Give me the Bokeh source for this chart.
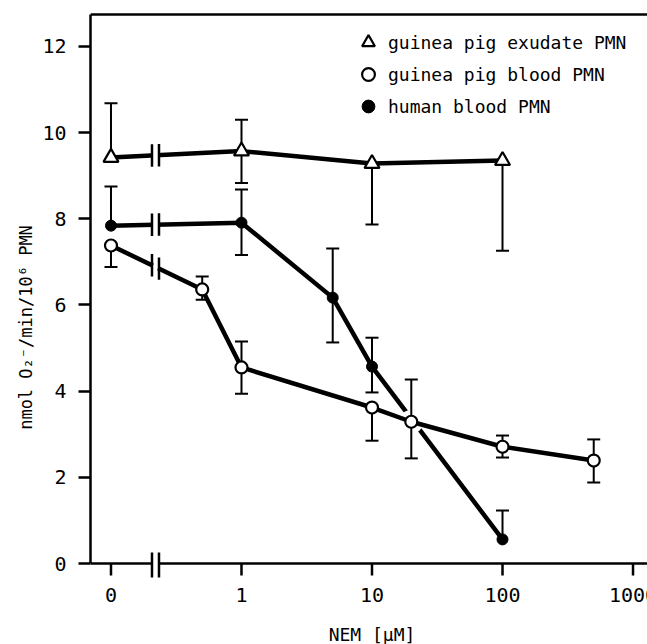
import numpy as np
from bokeh.plotting import figure
from bokeh.models import Range1d, FixedTicker, LinearAxis, Legend, LegendItem
from bokeh.core.properties import value
from bokeh.embed import file_html
from bokeh.resources import INLINE

FONT = "DejaVu Sans Mono"

# ---- data ----
ex_x = [0, 1, 10, 100]
ex_y = [9.42, 9.57, 9.28, 9.35]
ex_hi = [10.68, 10.30, np.nan, np.nan]
ex_lo = [np.nan, 8.83, 7.87, 7.26]

bl_x = [0, 0.5, 1, 10, 20, 100, 500]
bl_y = [7.38, 6.36, 4.55, 3.62, 3.29, 2.71, 2.39]
bl_hi = [np.nan, 6.66, 5.15, np.nan, 4.27, 2.97, 2.88]
bl_lo = [6.88, 6.12, 3.94, 2.85, 2.44, 2.46, 1.88]

hu_x = [0, 1, 5, 10, 100]
hu_y = [7.84, 7.91, 6.17, 4.57, 0.56]
hu_hi = [8.75, 8.68, 7.31, 5.24, 1.23]
hu_lo = [np.nan, 7.16, 5.13, 3.97, np.nan]

x_ticks = [0, 1, 10, 100, 1000]
x_tick_labels = ["0", "1", "10", "100", "1000"]
y_ticks = [0, 2, 4, 6, 8, 10, 12]

ZERO_POS = -1.0      # log-position where concentration 0 is drawn
BREAK_U = -0.659     # axis break position (log units)
TOP_Y = 12.74

def to_u(xs):
    return np.array([np.log10(v) if v > 0 else ZERO_POS for v in xs])

X0, X1 = -1.157, 3.111
Y0, Y1 = -1.879, 12.833

p = figure(width=647, height=644, output_backend="svg", toolbar_location=None,
           x_range=Range1d(X0, X1), y_range=Range1d(Y0, Y1),
           x_axis_location=None, y_axis_location="left",
           min_border_left=90, min_border_right=0, min_border_top=10, min_border_bottom=0)
p.grid.visible = False
p.outline_line_color = None
p.background_fill_color = "white"
p.border_fill_color = "white"

ya = p.yaxis[0]
ya.ticker = FixedTicker(ticks=y_ticks)
ya.bounds = (0, TOP_Y)
ya.axis_line_width = 2.5
ya.major_tick_line_width = 2.5
ya.major_tick_out = 12
ya.major_tick_in = 0
ya.minor_tick_line_color = None
ya.major_label_text_font = FONT
ya.major_label_text_font_size = "20px"
ya.major_label_text_color = "black"
ya.major_label_standoff = 12

ya2 = LinearAxis(axis_label="nmol O\u2082\u207b/min/10\u2076 PMN", bounds=(0, 11.6),
                 ticker=FixedTicker(ticks=[]), axis_line_color=None,
                 major_tick_line_color=None, minor_tick_line_color=None,
                 major_label_text_font_size="0px",
                 axis_label_text_font=FONT, axis_label_text_font_size="17px",
                 axis_label_text_color="black",
                 axis_label_text_font_style="normal", axis_label_standoff=4)
p.add_layout(ya2, "left")

# frame top line
p.segment(x0=[X0], y0=[TOP_Y], x1=[X1], y1=[TOP_Y], line_color="black", line_width=2.5)

# manual x axis
p.segment(x0=[X0], y0=[0], x1=[X1], y1=[0], line_color="black", line_width=2.5)
xu = to_u(x_ticks)
p.segment(x0=xu, y0=np.zeros(len(xu)), x1=xu, y1=np.full(len(xu), -0.278),
          line_color="black", line_width=2.5)
p.text(x=xu, y=np.full(len(xu), -0.74), text=x_tick_labels, text_font=value(FONT),
       text_font_size="20px", text_align="center", text_baseline="middle")
p.text(x=[1.0], y=[-1.64], text=["NEM [\u03bcM]"], text_font=value(FONT),
       text_font_size="18px", text_align="center", text_baseline="middle")

GAP_DU = 0.02
BAR_DU = 0.0268

def draw_break(us, ys, lo, hi, gap_w):
    yb = np.interp([BREAK_U - GAP_DU, BREAK_U + GAP_DU], us, ys)
    p.segment(x0=[BREAK_U - GAP_DU], y0=[yb[0]], x1=[BREAK_U + GAP_DU], y1=[yb[1]],
              line_color="white", line_width=gap_w)
    bx = np.array([BREAK_U - BAR_DU, BREAK_U + BAR_DU])
    by = np.interp(bx, us, ys)
    p.segment(x0=bx, y0=by + lo, x1=bx, y1=by + hi, line_color="black", line_width=2.5)

def errbars(us, ys, his, los):
    us = np.asarray(us); ys = np.asarray(ys); his = np.asarray(his); los = np.asarray(los)
    for ends in (his, los):
        m = ~np.isnan(ends)
        p.segment(x0=us[m], y0=ys[m], x1=us[m], y1=ends[m], line_color="black", line_width=2)
        p.scatter(us[m], ends[m], marker="dash", size=13, line_color="black", line_width=2)

ex_u, bl_u, hu_u = to_u(ex_x), to_u(bl_x), to_u(hu_x)

# human line then halo around blood points (line crossings)
p.line(hu_u, hu_y, line_color="black", line_width=4.5)
p.scatter(bl_u, bl_y, marker="circle", size=24, fill_color="white", line_color=None)
p.line(bl_u, bl_y, line_color="black", line_width=4.5)
p.line(ex_u, ex_y, line_color="black", line_width=4.5)

errbars(ex_u, ex_y, ex_hi, ex_lo)
errbars(bl_u, bl_y, bl_hi, bl_lo)
errbars(hu_u, hu_y, hu_hi, hu_lo)

r_ex = p.scatter(ex_u, ex_y, marker="triangle", size=15, fill_color="white",
                 line_color="black", line_width=2.2)
r_bl = p.scatter(bl_u, bl_y, marker="circle", size=12, fill_color="white",
                 line_color="black", line_width=2.2)
r_hu = p.scatter(hu_u, hu_y, marker="circle", size=11, fill_color="black",
                 line_color="black", line_width=1)

# break marks
for us, ys in ((ex_u, ex_y), (bl_u, bl_y), (hu_u, hu_y)):
    draw_break(us, ys, -0.26, 0.26, 8)
draw_break(np.array([X0, X1]), np.array([0.0, 0.0]), -0.325, 0.255, 6)

legend = Legend(items=[LegendItem(label="guinea pig exudate PMN", renderers=[r_ex]),
                       LegendItem(label="guinea pig blood PMN", renderers=[r_bl]),
                       LegendItem(label="human blood PMN", renderers=[r_hu])],
                location=(262, 522), margin=0, padding=0, spacing=0,
                glyph_width=32, glyph_height=32, label_height=20, label_standoff=4,
                label_text_font=FONT, label_text_font_size="18px", label_text_color="black",
                border_line_color=None, background_fill_alpha=0)
p.add_layout(legend)

open("out.html", "w").write(file_html(p, INLINE))
